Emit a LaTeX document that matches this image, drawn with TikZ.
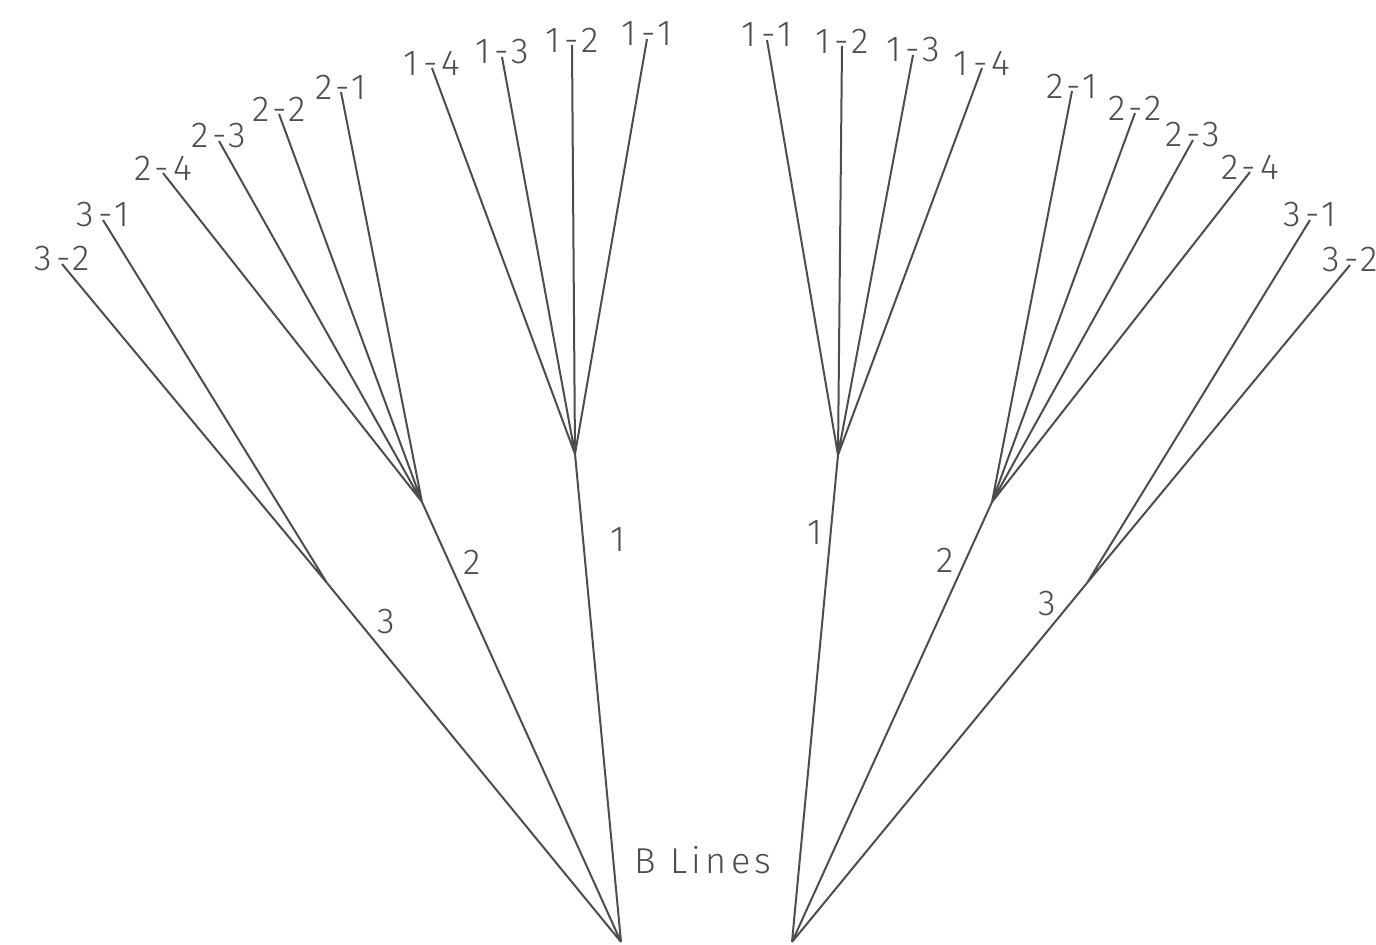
\documentclass[tikz,border=0pt]{standalone}
\usepackage{fontspec}
\setmainfont{Fira Sans Light}[LetterSpace=12]
\definecolor{linegray}{HTML}{4D4D4D}
\tikzset{
  tip/.style={text=linegray,inner sep=0pt,yshift=2.5pt,font=\fontsize{18}{21}\selectfont},
  branchlabel/.style={text=linegray,inner sep=0pt,font=\fontsize{18}{21}\selectfont}
}
\begin{document}
\begin{tikzpicture}[x=0.5pt,y=-0.5pt,line width=1pt,draw=linegray]
    \useasboundingbox (0,0) rectangle (1376,945);
    % left tree
    \coordinate (Lroot) at (621,942);
    \coordinate (L1) at (575,454);
    \coordinate (L2) at (422,502);
    \coordinate (L3) at (327,583);
    \coordinate (L11) at (647,39);
    \coordinate (L12) at (572,45);
    \coordinate (L13) at (502,57);
    \coordinate (L14) at (432,68);
    \coordinate (L21) at (341,92);
    \coordinate (L22) at (279,114);
    \coordinate (L23) at (219,141);
    \coordinate (L24) at (163,173);
    \coordinate (L31) at (103,220);
    \coordinate (L32) at (62,264);
    \draw[linegray] (Lroot) -- (L1) (Lroot) -- (L2) (Lroot) -- (L3);
    \draw[linegray] (L1) -- (L11) (L1) -- (L12) (L1) -- (L13) (L1) -- (L14);
    \draw[linegray] (L2) -- (L21) (L2) -- (L22) (L2) -- (L23) (L2) -- (L24);
    \draw[linegray] (L3) -- (L31) (L3) -- (L32);
    \node[tip] (tL11) at (L11) {1-1};
    \node[tip] (tL12) at (L12) {1-2};
    \node[tip] (tL13) at (L13) {1-3};
    \node[tip] (tL14) at (L14) {1-4};
    \node[tip] (tL21) at (L21) {2-1};
    \node[tip] (tL22) at (L22) {2-2};
    \node[tip] (tL23) at (L23) {2-3};
    \node[tip] (tL24) at (L24) {2-4};
    \node[tip] (tL31) at (L31) {3-1};
    \node[tip] (tL32) at (L32) {3-2};
    \node[branchlabel] (bL1) at (618,540) {1};
    \node[branchlabel] (bL2) at (472,562) {2};
    \node[branchlabel] (bL3) at (386,622) {3};
    % right tree
    \coordinate (Rroot) at (792,942);
    \coordinate (R1) at (838,455);
    \coordinate (R2) at (992,502);
    \coordinate (R3) at (1087,583);
    \coordinate (R11) at (767,40);
    \coordinate (R12) at (842,46);
    \coordinate (R13) at (913,55);
    \coordinate (R14) at (982,68);
    \coordinate (R21) at (1072,91);
    \coordinate (R22) at (1135,113);
    \coordinate (R23) at (1193,140);
    \coordinate (R24) at (1250,172);
    \coordinate (R31) at (1310,220);
    \coordinate (R32) at (1350,265);
    \draw[linegray] (Rroot) -- (R1) (Rroot) -- (R2) (Rroot) -- (R3);
    \draw[linegray] (R1) -- (R11) (R1) -- (R12) (R1) -- (R13) (R1) -- (R14);
    \draw[linegray] (R2) -- (R21) (R2) -- (R22) (R2) -- (R23) (R2) -- (R24);
    \draw[linegray] (R3) -- (R31) (R3) -- (R32);
    \node[tip] (tR11) at (R11) {1-1};
    \node[tip] (tR12) at (R12) {1-2};
    \node[tip] (tR13) at (R13) {1-3};
    \node[tip] (tR14) at (R14) {1-4};
    \node[tip] (tR21) at (R21) {2-1};
    \node[tip] (tR22) at (R22) {2-2};
    \node[tip] (tR23) at (R23) {2-3};
    \node[tip] (tR24) at (R24) {2-4};
    \node[tip] (tR31) at (R31) {3-1};
    \node[tip] (tR32) at (R32) {3-2};
    \node[branchlabel] (bR1) at (815,533) {1};
    \node[branchlabel] (bR2) at (945,560) {2};
    \node[branchlabel] (bR3) at (1047,604) {3};
    \node[branchlabel] (title) at (703,860) {B Lines};
\end{tikzpicture}
\end{document}
